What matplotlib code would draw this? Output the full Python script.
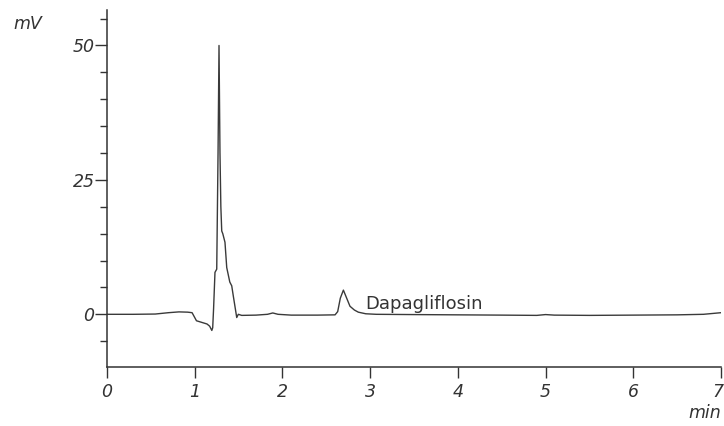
import matplotlib
matplotlib.use("Agg")
import matplotlib.pyplot as plt
from matplotlib.ticker import MultipleLocator
from matplotlib.transforms import ScaledTranslation

# Chromatogram trace: retention time (min) and detector response (mV)
time_min = [0.00, 0.30, 0.55, 0.70, 0.82, 0.92, 0.97, 1.00, 1.02, 1.08,
            1.14, 1.17, 1.195, 1.205, 1.215, 1.231, 1.251, 1.266, 1.277, 1.288,
            1.298, 1.308, 1.320, 1.345, 1.365, 1.40, 1.422, 1.44, 1.479, 1.497,
            1.536, 1.70, 1.83, 1.89, 1.95, 2.10, 2.40, 2.60, 2.63, 2.66,
            2.695, 2.72, 2.77, 2.82, 2.865, 2.95, 3.07, 3.50, 4.00, 4.50,
            4.90, 5.00, 5.10, 5.50, 6.00, 6.50, 6.80, 7.00]
signal_mv = [0.00, 0.00, 0.05, 0.30, 0.45, 0.40, 0.30, -0.60, -1.20, -1.50,
             -1.80, -2.20, -3.00, -2.50, 1.00, 7.80, 8.40, 30.0, 50.0, 30.0,
             20.0, 15.5, 15.0, 13.4, 8.7, 6.0, 5.3, 3.4, -0.60, 0.00,
             -0.20, -0.15, 0.00, 0.25, 0.00, -0.15, -0.15, -0.10, 0.50, 3.00,
             4.50, 3.50, 1.50, 0.80, 0.40, 0.10, 0.00, -0.05, -0.10, -0.15,
             -0.20, -0.05, -0.15, -0.20, -0.15, -0.10, 0.00, 0.30]

peak_label = "Dapagliflosin"
peak_label_pos = (2.94, 1.0)

x_ticks = [0, 1, 2, 3, 4, 5, 6, 7]
y_ticks = [0, 25, 50]

ink = "#333333"
fig = plt.figure(figsize=(7.24, 4.26), dpi=100)
ax = fig.add_axes([107 / 724, 59 / 426, 614 / 724, 357 / 426])

ax.plot(time_min, signal_mv, color="#3a3a3a", lw=1.0)

ax.set_xlim(0, 7)
ax.set_ylim(-9.8, 56.6)

for side in ("top", "right"):
    ax.spines[side].set_visible(False)
for side in ("left", "bottom"):
    ax.spines[side].set_color(ink)
    ax.spines[side].set_linewidth(1.1)

ax.set_xticks(x_ticks)
ax.set_xticklabels([str(v) for v in x_ticks])
ax.set_yticks(y_ticks)
ax.set_yticklabels([str(v) for v in y_ticks])
ax.yaxis.set_minor_locator(MultipleLocator(5))

ax.tick_params(axis="x", which="major", length=8, width=1.0, color=ink,
               labelcolor=ink, pad=3.5, direction="out")
ax.tick_params(axis="y", which="major", length=8.5, width=1.0, color=ink,
               labelcolor=ink, pad=0.5, direction="out")
ax.tick_params(axis="y", which="minor", length=5, width=1.0, color=ink,
               direction="out")

for lbl in ax.get_xticklabels() + ax.get_yticklabels():
    lbl.set_fontfamily("DejaVu Sans")
    lbl.set_fontstyle("italic")
    lbl.set_fontsize(12.5)

# keep the last time label inside the canvas
last = ax.xaxis.get_major_ticks()[-1].label1
last.set_transform(last.get_transform() +
                   ScaledTranslation(-3 / 100, 0, fig.dpi_scale_trans))

ax.text(*peak_label_pos, peak_label, fontsize=13, color=ink,
        family="DejaVu Sans", va="baseline", ha="left")

fig.text(13 / 724, 1 - 24 / 426, "mV", fontsize=12.5, style="italic",
         color=ink, va="center", ha="left")
fig.text(721 / 724, 1 - 413 / 426, "min", fontsize=12.5, style="italic",
         color=ink, va="center", ha="right")

fig.savefig("out.png", dpi=100)
